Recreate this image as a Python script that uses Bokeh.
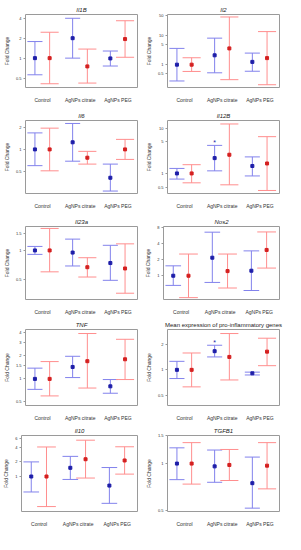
import numpy as np
from bokeh.plotting import figure
from bokeh.layouts import column, row
from bokeh.models import FixedTicker, Range1d, NumeralTickFormatter, Label
from bokeh.core.properties import value
from bokeh.embed import file_html
from bokeh.resources import INLINE

groups = ["Control", "AgNPs citrate", "AgNPs PEG"]
routes = ["intragastrically", "intravenously"]

# ---- data: mean, lower and upper limit (fold change), per route ----
il1b_ig_mean = [1.0, 2.0, 0.99]; il1b_ig_lo = [0.56, 1.0, 0.76]; il1b_ig_hi = [1.78, 4.0, 1.28]
il1b_iv_mean = [1.0, 0.75, 1.94]; il1b_iv_lo = [0.41, 0.42, 1.03]; il1b_iv_hi = [2.46, 1.37, 3.67]

il2_ig_mean = [1.0, 2.12, 1.25]; il2_ig_lo = [0.27, 0.52, 0.59]; il2_ig_hi = [3.69, 8.4, 2.53]
il2_iv_mean = [1.0, 3.69, 1.69]; il2_iv_lo = [0.58, 0.30, 0.20]; il2_iv_hi = [1.74, 45.9, 14.2]

il6_ig_mean = [1.0, 1.25, 0.41]; il6_ig_lo = [0.60, 0.69, 0.27]; il6_ig_hi = [1.68, 2.26, 0.63]
il6_iv_mean = [1.0, 0.77, 1.0]; il6_iv_lo = [0.51, 0.63, 0.73]; il6_iv_hi = [1.95, 0.94, 1.37]

il12b_ig_mean = [1.0, 2.18, 1.46]; il12b_ig_lo = [0.75, 1.14, 0.88]; il12b_ig_hi = [1.29, 4.17, 2.32]
il12b_iv_mean = [1.0, 2.59, 1.66]; il12b_iv_lo = [0.62, 0.56, 0.42]; il12b_iv_hi = [1.56, 12.4, 6.5]

il23a_ig_mean = [1.0, 0.95, 0.74]; il23a_ig_lo = [0.91, 0.69, 0.49]; il23a_ig_hi = [1.10, 1.31, 1.13]
il23a_iv_mean = [1.0, 0.67, 0.65]; il23a_iv_lo = [0.60, 0.53, 0.36]; il23a_iv_hi = [1.69, 0.84, 1.17]

nos2_ig_mean = [1.0, 2.17, 1.24]; nos2_ig_lo = [0.66, 0.75, 0.53]; nos2_ig_hi = [1.53, 6.5, 2.91]
nos2_iv_mean = [1.0, 1.22, 3.03]; nos2_iv_lo = [0.39, 0.59, 1.39]; nos2_iv_hi = [2.54, 2.54, 6.57]

tnf_ig_mean = [1.0, 1.43, 0.80]; tnf_ig_lo = [0.73, 1.04, 0.65]; tnf_ig_hi = [1.38, 1.97, 0.98]
tnf_iv_mean = [1.0, 1.70, 1.80]; tnf_iv_lo = [0.60, 0.76, 0.98]; tnf_iv_hi = [1.68, 3.9, 3.28]

mean_ig_mean = [1.0, 1.66, 0.91]; mean_ig_lo = [0.79, 1.42, 0.87]; mean_ig_hi = [1.26, 1.95, 0.94]
mean_iv_mean = [1.0, 1.42, 1.64]; mean_iv_lo = [0.63, 0.76, 1.12]; mean_iv_hi = [1.58, 2.68, 2.36]

il10_ig_mean = [1.0, 1.51, 0.65]; il10_ig_lo = [0.48, 0.87, 0.28]; il10_ig_hi = [2.0, 2.6, 1.53]
il10_iv_mean = [1.0, 2.27, 2.14]; il10_iv_lo = [0.24, 0.93, 1.12]; il10_iv_hi = [4.06, 5.6, 4.1]

tgfb1_ig_mean = [1.0, 0.96, 0.75]; tgfb1_ig_lo = [0.79, 0.76, 0.52]; tgfb1_ig_hi = [1.26, 1.22, 1.10]
tgfb1_iv_mean = [1.0, 0.98, 0.97]; tgfb1_iv_lo = [0.74, 0.78, 0.69]; tgfb1_iv_hi = [1.36, 1.23, 1.36]

# ---- panel titles, y-axis tick values and y limits ----
titles = ["Il1B", "Il2", "Il6", "Il12B", "Il23a", "Nos2", "TNF",
          "Mean expression of pro-inflammatory genes", "Il10", "TGFB1"]
ticks_il1b = [0.5, 1, 2, 4]
ticks_il2 = [0.5, 1, 5, 10, 50]
ticks_il6 = [0.5, 1, 2]
ticks_il12b = [0.5, 1, 5, 10]
ticks_il23a = [0.5, 1, 1.5]
ticks_nos2 = [1, 2, 4, 8]
ticks_tnf = [0.5, 1, 1.5, 2, 3, 4]
ticks_mean = [0.5, 1, 2]
ticks_il10 = [1, 2, 4, 6]
ticks_tgfb1 = [0.5, 1, 1.5]
ylims = [(0.36, 4.56), (0.16, 56), (0.25, 2.48), (0.36, 14.8), (0.31, 1.77),
         (0.36, 8.3), (0.45, 4.4), (0.38, 2.99), (0.19, 7.0), (0.495, 1.51)]
# significance marks: (panel index, group index) for intragastric route
stars = [(3, 1), (7, 1)]

panels = [
    (il1b_ig_mean, il1b_ig_lo, il1b_ig_hi, il1b_iv_mean, il1b_iv_lo, il1b_iv_hi, ticks_il1b),
    (il2_ig_mean, il2_ig_lo, il2_ig_hi, il2_iv_mean, il2_iv_lo, il2_iv_hi, ticks_il2),
    (il6_ig_mean, il6_ig_lo, il6_ig_hi, il6_iv_mean, il6_iv_lo, il6_iv_hi, ticks_il6),
    (il12b_ig_mean, il12b_ig_lo, il12b_ig_hi, il12b_iv_mean, il12b_iv_lo, il12b_iv_hi, ticks_il12b),
    (il23a_ig_mean, il23a_ig_lo, il23a_ig_hi, il23a_iv_mean, il23a_iv_lo, il23a_iv_hi, ticks_il23a),
    (nos2_ig_mean, nos2_ig_lo, nos2_ig_hi, nos2_iv_mean, nos2_iv_lo, nos2_iv_hi, ticks_nos2),
    (tnf_ig_mean, tnf_ig_lo, tnf_ig_hi, tnf_iv_mean, tnf_iv_lo, tnf_iv_hi, ticks_tnf),
    (mean_ig_mean, mean_ig_lo, mean_ig_hi, mean_iv_mean, mean_iv_lo, mean_iv_hi, ticks_mean),
    (il10_ig_mean, il10_ig_lo, il10_ig_hi, il10_iv_mean, il10_iv_lo, il10_iv_hi, ticks_il10),
    (tgfb1_ig_mean, tgfb1_ig_lo, tgfb1_ig_hi, tgfb1_iv_mean, tgfb1_iv_lo, tgfb1_iv_hi, ticks_tgfb1),
]

FONT = "Liberation Sans"
BLUE_LINE, BLUE_PT = "#8282ec", "#1e1ea8"
RED_LINE, RED_PT = "#ff8e8e", "#d42020"
TXT = "#333333"

W, H = 142, 106
xpos = np.array([1.0, 2.0, 3.0])
# legend layout (pixels from the frame's lower-left corner)
LEG_Y = -12
LEG_ICON_X = [13, 51]
LEG_TEXT_X = [16, 54]


def make_panel(i):
    ig_m, ig_lo, ig_hi, iv_m, iv_lo, iv_hi, ticks = panels[i]
    rw = i // 2
    top = 14 if rw < 3 else 11
    p = figure(width=W, height=H, y_axis_type="log", output_backend="svg",
               toolbar_location=None, x_range=Range1d(0.55, 3.52),
               y_range=Range1d(*ylims[i]),
               min_border_right=5, min_border_top=top, min_border_bottom=19)
    p.title.text = titles[i]
    p.title.align = "center"
    p.title.text_font = FONT
    p.title.text_font_size = "6px"
    p.title.text_font_style = "normal" if i == 7 else "italic"
    p.title.text_color = "#222222"
    p.title.standoff = 3
    p.outline_line_color = "#9a9a9a"
    p.grid.visible = False

    # x axis
    p.xaxis.ticker = FixedTicker(ticks=[1, 2, 3])
    p.xaxis.major_label_overrides = {1: groups[0], 2: groups[1], 3: groups[2]}
    p.xaxis.axis_line_color = None
    p.xaxis.major_tick_line_color = None
    p.xaxis.minor_tick_line_color = None
    p.xaxis.major_label_text_font = FONT
    p.xaxis.major_label_text_font_size = "5px"
    p.xaxis.major_label_text_color = TXT
    p.xaxis.major_label_standoff = 3

    # y axis
    p.yaxis.ticker = FixedTicker(ticks=ticks)
    p.yaxis.formatter = NumeralTickFormatter(format="0.[0]")
    p.yaxis.axis_line_color = None
    p.yaxis.major_tick_line_color = "#9a9a9a"
    p.yaxis.major_tick_out = 2
    p.yaxis.major_tick_in = 0
    p.yaxis.minor_tick_line_color = None
    p.yaxis.major_label_text_font = FONT
    p.yaxis.major_label_text_font_size = "4px"
    p.yaxis.major_label_text_color = TXT
    p.yaxis.major_label_standoff = 2
    p.yaxis.axis_label = "Fold Change"
    p.yaxis.axis_label_text_font = FONT
    p.yaxis.axis_label_text_font_size = "5px"
    p.yaxis.axis_label_text_font_style = "normal"
    p.yaxis.axis_label_text_color = TXT
    p.yaxis.axis_label_standoff = 3

    for m, lo, hi, off, cw, lc, pc in [
        (ig_m, ig_lo, ig_hi, -0.2, 0.2, BLUE_LINE, BLUE_PT),
        (iv_m, iv_lo, iv_hi, 0.19, 0.24, RED_LINE, RED_PT),
    ]:
        x = xpos + off
        p.segment(x0=x, y0=lo, x1=x, y1=hi, line_color=lc, line_width=1)
        p.segment(x0=x - cw, y0=lo, x1=x + cw, y1=lo, line_color=lc, line_width=1)
        p.segment(x0=x - cw, y0=hi, x1=x + cw, y1=hi, line_color=lc, line_width=1)
        p.scatter(x=x, y=m, marker="square", size=3, fill_color=pc,
                  line_color=pc)

    for (pi, gi) in stars:
        if pi == i:
            p.text(x=[xpos[gi] - 0.2], y=[ig_hi[gi]], text=["*"],
                   text_align="center", text_baseline="middle", y_offset=-3,
                   text_font=value(FONT), text_font_size="7px",
                   text_color=BLUE_PT)

    # legend below the axis, built from labels
    for k, col in enumerate([BLUE_LINE, RED_LINE]):
        p.add_layout(Label(x=LEG_ICON_X[k], y=LEG_Y, x_units="screen",
                           y_units="screen", text="I", text_color=col,
                           text_font="Liberation Serif", text_font_size="5px",
                           text_align="center", text_baseline="middle"))
        p.add_layout(Label(x=LEG_TEXT_X[k], y=LEG_Y, x_units="screen",
                           y_units="screen", text=routes[k], text_color=TXT,
                           text_font=FONT, text_font_size="4px",
                           text_align="left", text_baseline="middle"))
    return p


figs = [make_panel(i) for i in range(10)]
layout = column([row(figs[k], figs[k + 1]) for k in range(0, 10, 2)])

open("out.html", "w").write(file_html(layout, INLINE))
